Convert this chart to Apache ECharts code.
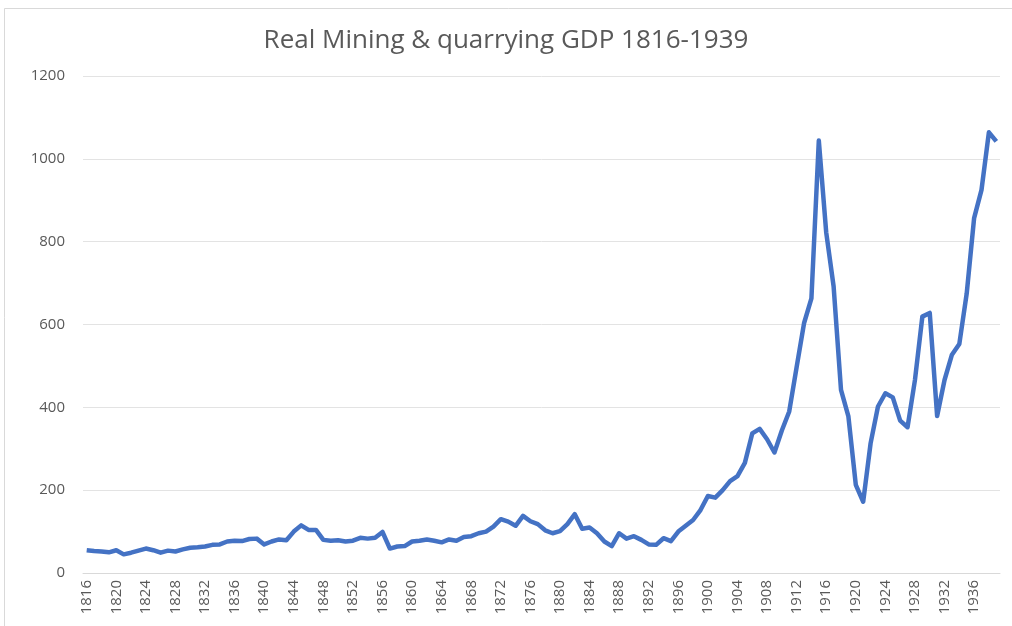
<!DOCTYPE html>
<html>
<head>
<meta charset="utf-8">
<script src="https://cdn.jsdelivr.net/npm/echarts@6/dist/echarts.min.js"></script>
<style>
  html, body { margin: 0; padding: 0; background: #fff; }
  #chart { width: 1012px; height: 626px; }
</style>
</head>
<body>
<div id="chart"></div>
<script>
// years 1816..1939
var years = [];
for (var y = 1816; y <= 1939; y++) years.push(String(y));

// real mining & quarrying GDP
var gdp = [
  55, 53, 52, 50, 55, 45, 49, 54, 59, 55,   // 1816-1825
  49, 54, 52, 57, 61, 62, 64, 68, 69, 76,   // 1826-1835
  78, 77, 82, 83, 69, 76, 81, 79, 100, 115, // 1836-1845
  104, 104, 80, 78, 79, 76, 78, 85, 83, 85, // 1846-1855
  99, 59, 64, 65, 76, 78, 81, 78, 74, 81,   // 1856-1865
  78, 87, 89, 96, 100, 112, 130, 124, 114, 138, // 1866-1875
  125, 118, 103, 96, 101, 118, 142, 107, 110, 96, // 1876-1885
  76, 65, 96, 83, 89, 80, 69, 68, 84, 77,   // 1886-1895
  100, 114, 128, 152, 186, 182, 200, 222, 234, 266, // 1896-1905
  337, 348, 323, 291, 344, 390, 497, 603, 663, 1044, // 1906-1915
  822, 692, 442, 378, 213, 172, 313, 402, 434, 424, // 1916-1925
  368, 352, 466, 619, 628, 379, 466, 527, 553, 675, // 1926-1935
  857, 925, 1064, 1042                       // 1936-1939
];

var yTicks = { min: 0, max: 1200, interval: 200 };

var chart = echarts.init(document.getElementById('chart'));
var option = {
  backgroundColor: '#fff',
  animation: false,
  title: {
    text: 'Real Mining & quarrying GDP 1816-1939',
    left: 'center',
    top: 23,
    textStyle: {
      fontFamily: 'Open Sans',
      fontSize: 26,
      fontWeight: 'normal',
      color: '#595959'
    }
  },
  graphic: [{
    type: 'rect',
    shape: { x: 4.5, y: 8.5, width: 1010, height: 620 },
    style: { fill: 'none', stroke: '#d9d9d9', lineWidth: 1 },
    silent: true
  }],
  grid: { left: 83, right: 12, top: 76, bottom: 53 },
  xAxis: {
    type: 'category',
    data: years,
    boundaryGap: true,
    axisLine: { show: true, lineStyle: { color: '#d9d9d9', width: 1 } },
    axisTick: { show: false },
    axisLabel: {
      interval: 3,
      rotate: 90,
      margin: 7,
      fontFamily: 'Open Sans',
      fontSize: 15,
      color: '#595959'
    },
    splitLine: { show: false }
  },
  yAxis: {
    type: 'value',
    min: yTicks.min,
    max: yTicks.max,
    interval: yTicks.interval,
    axisLine: { show: false },
    axisTick: { show: false },
    axisLabel: {
      margin: 18,
      fontFamily: 'Open Sans',
      fontSize: 15,
      color: '#595959',
      formatter: function (v) { return String(v); }
    },
    splitLine: { lineStyle: { color: '#e3e3e3', width: 1 } }
  },
  series: [{
    type: 'line',
    data: gdp,
    showSymbol: false,
    symbol: 'none',
    lineStyle: { color: '#4472C4', width: 4.5, join: 'round' },
    itemStyle: { color: '#4472C4' }
  }]
};
chart.setOption(option);
</script>
</body>
</html>
